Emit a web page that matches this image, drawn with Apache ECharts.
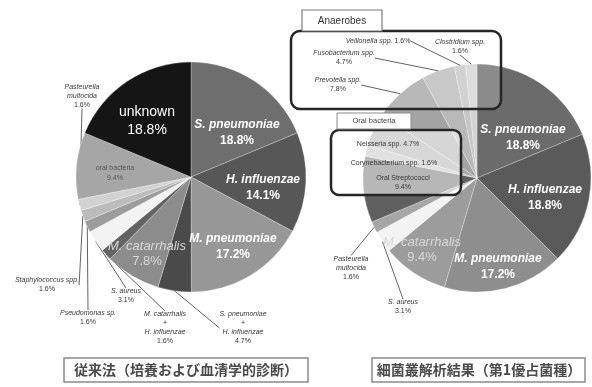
<!DOCTYPE html>
<html>
<head>
<meta charset="utf-8">
<script src="https://cdn.jsdelivr.net/npm/echarts/dist/echarts.min.js"></script>
<style>
  html, body { margin: 0; padding: 0; background: #fff; }
  #chart { width: 592px; height: 387px; }
</style>
</head>
<body>
<div id="chart"></div>
<script>
// Conventional methods (culture + serology): share of cases, %
const conventionalNames = [
  'S. pneumoniae', 'H. influenzae', 'M. pneumoniae', 'S. pneumoniae + H. influenzae',
  'M. catarrhalis', 'M. catarrhalis + H. influenzae', 'S. aureus', 'Pseudomonas sp.',
  'Staphylococcus spp.', 'Pasteurella multocida', 'oral bacteria', 'unknown'
];
const conventionalValues = [18.8, 14.1, 17.2, 4.7, 7.8, 1.6, 3.1, 1.6, 1.6, 1.6, 9.4, 18.8];

// Clone library analysis (first-ranked species): share of cases, %
const cloneNames = [
  'S. pneumoniae', 'H. influenzae', 'M. pneumoniae', 'M. catarrhalis', 'S. aureus',
  'Pasteurella multocida', 'Oral Streptococci', 'Corynebacterium spp.', 'Neisseria spp.',
  'Prevotella spp.', 'Fusobacterium spp.', 'Veillonella spp.', 'Clostridium spp.'
];
const cloneValues = [18.8, 18.8, 17.2, 9.4, 3.1, 1.6, 9.4, 1.6, 4.7, 7.8, 4.7, 1.6, 1.6];

const groupTitles = ['Anaerobes', 'Oral bacteria'];
const captions = ['従来法（培養および血清学的診断）', '細菌叢解析結果（第1優占菌種）'];

// ---- styling ----
const conventionalColors = ['#6e6e6e', '#575757', '#979797', '#4a4a4a', '#8c8c8c', '#636363',
  '#f3f3f3', '#9c9c9c', '#bcbcbc', '#d2d2d2', '#a6a6a6', '#151515'];
const cloneColors = ['#6b6b6b', '#5a5a5a', '#8e8e8e', '#9c9c9c', '#f3f3f3', '#a6a6a6',
  '#5f5f5f', '#bdbdbd', '#a9a9a9', '#a4a4a4', '#b9b9b9', '#c6c6c6', '#d3d3d3'];

// label placement: kind, anchor point, leader line, value on same line, word wrap
const conventionalLabelSpec = [
  { kind: 'big', at: [237, 133] },
  { kind: 'big', at: [263, 188] },
  { kind: 'big', at: [233, 247] },
  { kind: 'note', at: [243, 328], line: true },
  { kind: 'pale', at: [147, 254] },
  { kind: 'note', at: [165, 328], line: true },
  { kind: 'note', at: [126, 296], line: true },
  { kind: 'note', at: [88, 318], line: true },
  { kind: 'note', at: [47, 285], line: true },
  { kind: 'note', at: [82, 96], line: true, wrap: true },
  { kind: 'oral', at: [115, 173] },
  { kind: 'unknown', at: [147, 121] }
];
const cloneLabelSpec = [
  { kind: 'big', at: [523, 138] },
  { kind: 'big', at: [545, 198] },
  { kind: 'big', at: [498, 267] },
  { kind: 'pale', at: [422, 250] },
  { kind: 'note', at: [403, 307], line: true },
  { kind: 'note', at: [351, 268], line: true, wrap: true },
  { kind: 'plain', at: [403, 183] },
  { kind: 'plain', at: [394, 163], inline: true },
  { kind: 'plain', at: [388, 144], inline: true },
  { kind: 'note', at: [338, 85], line: true },
  { kind: 'note', at: [344, 58], line: true },
  { kind: 'note', at: [378, 41], line: true, inline: true },
  { kind: 'note', at: [460, 47], line: true }
];

const FONT = '"Liberation Sans", Arial, sans-serif';
const CJK = '"Noto Sans CJK JP", sans-serif';

const rich = {
  bi: { fontFamily: FONT, fontSize: 12, fontWeight: 'bold', fontStyle: 'italic', color: '#ffffff', lineHeight: 16 },
  bv: { fontFamily: FONT, fontSize: 12, fontWeight: 'bold', color: '#ffffff', lineHeight: 16 },
  un: { fontFamily: FONT, fontSize: 14, color: '#ffffff', lineHeight: 18 },
  pi: { fontFamily: FONT, fontSize: 13, fontStyle: 'italic', color: '#d8d8d8', lineHeight: 15 },
  pv: { fontFamily: FONT, fontSize: 13, color: '#d8d8d8', lineHeight: 15 },
  si: { fontFamily: FONT, fontSize: 7, fontStyle: 'italic', color: '#383838', lineHeight: 9 },
  sv: { fontFamily: FONT, fontSize: 7, color: '#383838', lineHeight: 9 },
  gi: { fontFamily: FONT, fontSize: 7, color: '#555555', lineHeight: 10 }
};
const KIND = {
  big: ['bi', 'bv', 'inside'],
  unknown: ['un', 'un', 'inside'],
  pale: ['pi', 'pv', 'inside'],
  oral: ['gi', 'gi', 'inside'],
  note: ['si', 'sv', 'outside'],
  plain: ['sv', 'sv', 'outside']
};

function labelText(name, value, spec) {
  const [ns, vs] = KIND[spec.kind];
  let parts;
  if (name.includes(' + ')) {
    const [a, b] = name.split(' + ');
    parts = [a, '+', b];
  } else if (spec.wrap) {
    parts = name.split(' ');
  } else {
    parts = [name];
  }
  const lines = parts.map(p => p === '+' ? `{${vs}|+}` : `{${ns}|${p}}`);
  const pct = value.toFixed(1) + '%';
  if (spec.inline) lines[lines.length - 1] += `{${vs}| ${pct}}`;
  else lines.push(`{${vs}|${pct}}`);
  return lines.join('\n');
}

function buildData(names, values, colors, specs, withLabels) {
  return names.map((name, i) => {
    const spec = specs[i];
    const item = { name: name, value: values[i] };
    if (colors) item.itemStyle = { color: colors[i] };
    if (withLabels) {
      const text = labelText(name, values[i], spec);
      item.label = {
        show: true,
        position: KIND[spec.kind][2],
        formatter: () => text,
        rich: rich
      };
      item.labelLine = { show: !!spec.line };
    }
    return item;
  });
}

function placeLabels(specs) {
  return (params) => {
    const s = specs[params.dataIndex];
    return { x: s.at[0], y: s.at[1], align: 'center', verticalAlign: 'middle' };
  };
}

const pieBase = {
  type: 'pie',
  radius: 115,
  startAngle: 90,
  clockwise: true,
  avoidLabelOverlap: false,
  minShowLabelAngle: 0,
  silent: true,
  animation: false,
  emphasis: { disabled: true },
  labelLine: { length: 6, length2: 0, lineStyle: { color: '#3a3a3a', width: 0.8 } }
};

const chart = echarts.init(document.getElementById('chart'), null, { renderer: 'canvas' });

chart.setOption({
  backgroundColor: '#ffffff',
  animation: false,
  series: [
    Object.assign({}, pieBase, {
      name: 'conventional',
      center: [191, 177],
      z: 2,
      itemStyle: { borderColor: 'rgba(255,255,255,0.45)', borderWidth: 0.6 },
      data: buildData(conventionalNames, conventionalValues, conventionalColors, conventionalLabelSpec, true),
      labelLayout: placeLabels(conventionalLabelSpec)
    }),
    // clone library pie: sectors underneath the group boxes
    Object.assign({}, pieBase, {
      name: 'clone',
      center: [477, 178],
      radius: 114,
      z: 2,
      label: { show: false },
      labelLine: { show: false },
      itemStyle: { borderColor: 'rgba(255,255,255,0.45)', borderWidth: 0.6 },
      data: buildData(cloneNames, cloneValues, cloneColors, cloneLabelSpec, false)
    }),
    // clone library labels drawn above the group boxes
    Object.assign({}, pieBase, {
      name: 'cloneLabels',
      center: [477, 178],
      radius: 114,
      z: 8,
      itemStyle: { color: 'rgba(0,0,0,0)', borderWidth: 0 },
      data: buildData(cloneNames, cloneValues, null, cloneLabelSpec, true),
      labelLayout: placeLabels(cloneLabelSpec)
    })
  ],
  graphic: [
    // Anaerobes group
    { type: 'rect', z: 5, shape: { x: 291, y: 31, width: 210, height: 78, r: 9 },
      style: { fill: 'rgba(255,255,255,0.22)', stroke: '#262626', lineWidth: 2.5 } },
    { type: 'rect', z: 6, shape: { x: 302, y: 10, width: 80, height: 21 },
      style: { fill: '#ffffff', stroke: '#7a7a7a', lineWidth: 1.2 } },
    { type: 'text', z: 7, x: 342, y: 21,
      style: { text: groupTitles[0], font: '10px ' + FONT, fill: '#333333',
               textAlign: 'center', textVerticalAlign: 'middle' } },
    // Oral bacteria group
    { type: 'rect', z: 5, shape: { x: 331, y: 130, width: 130, height: 65, r: 8 },
      style: { fill: 'rgba(255,255,255,0.55)', stroke: '#262626', lineWidth: 2.5 } },
    { type: 'rect', z: 6, shape: { x: 337, y: 113, width: 74, height: 16 },
      style: { fill: '#ffffff', stroke: '#8a8a8a', lineWidth: 1 } },
    { type: 'text', z: 7, x: 374, y: 121,
      style: { text: groupTitles[1], font: '7.5px ' + FONT, fill: '#444444',
               textAlign: 'center', textVerticalAlign: 'middle' } },
    // captions
    { type: 'rect', z: 5, shape: { x: 64, y: 358, width: 244, height: 24 },
      style: { fill: '#ffffff', stroke: '#8a8a8a', lineWidth: 1.5 } },
    { type: 'text', z: 6, x: 186, y: 370,
      style: { text: captions[0], font: 'bold 14px ' + CJK, fill: '#4a4a4a',
               textAlign: 'center', textVerticalAlign: 'middle' } },
    { type: 'rect', z: 5, shape: { x: 372, y: 358, width: 213, height: 24 },
      style: { fill: '#ffffff', stroke: '#8a8a8a', lineWidth: 1.5 } },
    { type: 'text', z: 6, x: 479, y: 370,
      style: { text: captions[1], font: 'bold 14px ' + CJK, fill: '#4a4a4a',
               textAlign: 'center', textVerticalAlign: 'middle' } }
  ]
});
</script>
</body>
</html>
